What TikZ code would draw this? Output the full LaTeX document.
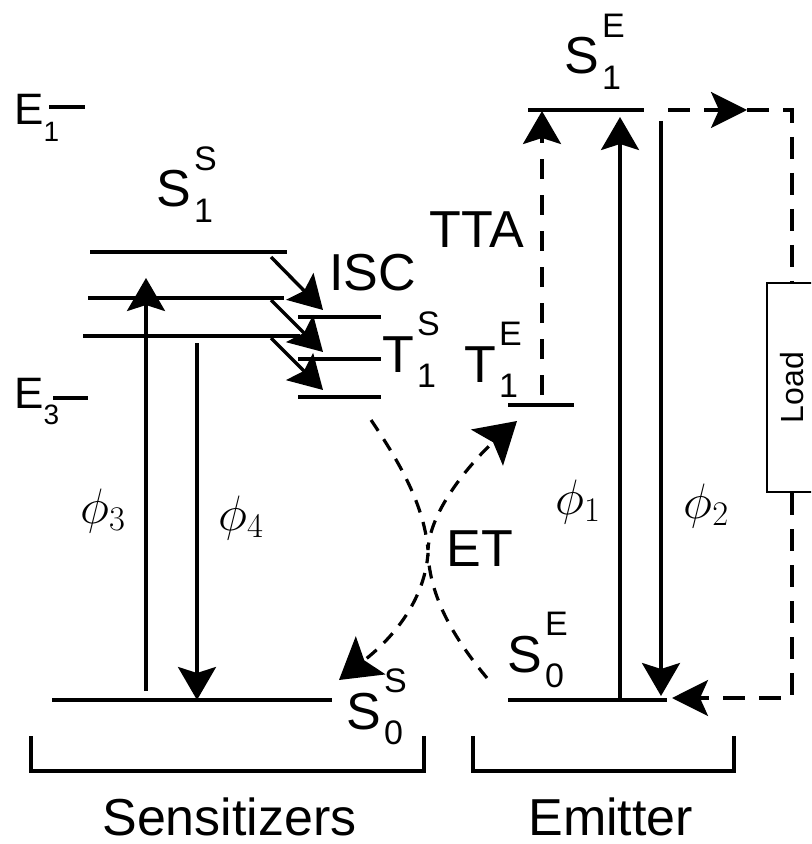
\documentclass[tikz,border=0pt]{standalone}
\usepackage{fontspec}
\setmainfont{Liberation Sans}
\usetikzlibrary{arrows.meta,positioning}

% level label: letter with stacked sub- and superscript
\newcommand{\lvlab}[3]{#1\kern1.5pt\rlap{\raisebox{0.7em}{\fontsize{17}{17}\selectfont #3}}\raisebox{-0.29em}{\fontsize{17}{17}\selectfont #2}}
\newcommand{\enlab}[1]{E\raisebox{-0.38em}{\fontsize{14}{14}\selectfont #1}}

\begin{document}
\begin{tikzpicture}[x=0.5pt, y=-0.5pt,
    lv/.style={line width=1.7pt},
    arr/.style={line width=1.7pt, -{Stealth[length=16.5pt,width=19pt,inset=3pt]}},
    tta/.style={arr, dash pattern=on 10pt off 8pt},
    et/.style={line width=1.6pt, dash pattern=on 6.5pt off 5pt},
    etarr/.style={et, -{Stealth[length=20pt,width=24pt,inset=4pt]}},
    wire/.style={line width=1.6pt, dash pattern=on 11pt off 7pt},
    wirearr/.style={wire, -{Stealth[length=18pt,width=18pt,inset=4pt]}},
    lab/.style={inner sep=0pt, anchor=base west, font=\fontsize{26}{26}\selectfont},
    elab/.style={inner sep=0pt, anchor=base west, font=\fontsize{22}{22}\selectfont},
    loadbox/.style={draw, line width=1.3pt, rotate=90, inner sep=0pt,
      minimum width=104.5pt, minimum height=25pt, font=\fontsize{16}{16}\selectfont}
  ]
    \useasboundingbox (0,0) rectangle (811,844);
    \clip (0,0) rectangle (811,844);

    % energy scale
    \node[elab] (e1) at (14,125) {\enlab{1}};
    \node[elab] (e3) at (14,408) {\enlab{3}};
    \draw[lv] (49,107) -- (85,107);
    \draw[lv] (53,398) -- (88,398);

    % sensitizer levels
    \draw[lv] (90,252) -- (287,252);
    \draw[lv] (88,298) -- (284,298);
    \draw[lv] (83,336) -- (300,336);
    \foreach \y in {317,359,397}
      \draw[lv] (298,\y) -- (381,\y);
    \draw[lv] (52,700) -- (332,700);

    % emitter levels
    \draw[lv] (528,110) -- (644,110);
    \draw[lv] (508,405) -- (574,405);
    \draw[lv] (508,700) -- (667,700);

    % labels
    \node[lab] (s1s) at (156,207) {\lvlab{S}{1}{S}};
    \node[lab] (isc) at (329,291) {ISC};
    \node[lab] (t1s) at (382,372) {\lvlab{T}{1}{S}};
    \node[lab] (t1e) at (464,382) {\lvlab{T}{1}{E}};
    \node[lab] (tta) at (429,248) {TTA};
    \node[lab] (s1e) at (564,74) {\lvlab{S}{1}{E}};
    \node[lab] (et) at (446,566) {ET};
    \node[lab] (s0e) at (507,672) {\lvlab{S}{0}{E}};
    \node[lab] (s0s) at (346,729) {\lvlab{S}{0}{S}};
    \node[lab] (ph3) at (80,523) {$\phi_3$};
    \node[lab] (ph4) at (218,530) {$\phi_4$};
    \node[lab] (ph1) at (555,514) {$\phi_1$};
    \node[lab] (ph2) at (683,518) {$\phi_2$};

    % arrow ends
    \coordinate (a3) at (146,691);  \coordinate (b3) at (146,278);
    \coordinate (a4) at (197,343);  \coordinate (b4) at (197,700);
    \coordinate (a1) at (620,700);  \coordinate (b1) at (620,117);
    \coordinate (a2) at (661,121);  \coordinate (b2) at (661,696);
    \coordinate (ta) at (542,395);  \coordinate (tb) at (542,111);

    \draw[arr] (a3) -- (b3);
    \draw[arr] (a4) -- (b4);
    \draw[arr] (a1) -- (b1);
    \draw[arr] (a2) -- (b2);
    \draw[tta] (ta) -- (tb);

    % intersystem crossing
    \foreach \ya/\yb [count=\i] in {257/310, 300/352, 338/390} {
      \coordinate (isc\i a) at (271,\ya);
      \coordinate (isc\i b) at (323,\yb);
      \draw[arr] (isc\i a) -- (isc\i b);
    }

    % energy transfer
    \coordinate (et1) at (371,420);
    \coordinate (et2) at (517,421);
    \coordinate (et3) at (487,678);
    \coordinate (et4) at (339,680);
    \draw[etarr] (et1) .. controls (400,463) and (424,505) .. (428,550)
      .. controls (430,505) and (482,452) .. (et2);
    \draw[etarr] (et3) .. controls (452,636) and (430,596) .. (428,553)
      .. controls (425,596) and (398,634) .. (et4);

    % external circuit
    \node[loadbox] (load) at (792,387.5) {Load};
    \coordinate (w0) at (668,110);
    \coordinate (wm) at (747,110);
    \coordinate (wt) at (792,110);
    \coordinate (wb) at (792,698);
    \coordinate (we) at (672,698);
    \draw[wirearr] (w0) -- (wm);
    \draw[wire] (wm) -- (wt) -- (load.east);
    \draw[wirearr] (load.west) -- (wb) -- (we);

    % groups
    \draw[lv] (31,736) -- (31,771) -- (424,771) -- (424,736);
    \draw[lv] (473,736) -- (473,771) -- (734,771) -- (734,736);
    \node[lab] (sens) at (102,835) {Sensitizers};
    \node[lab] (emit) at (528,835) {Emitter};
  \end{tikzpicture}
\end{document}
